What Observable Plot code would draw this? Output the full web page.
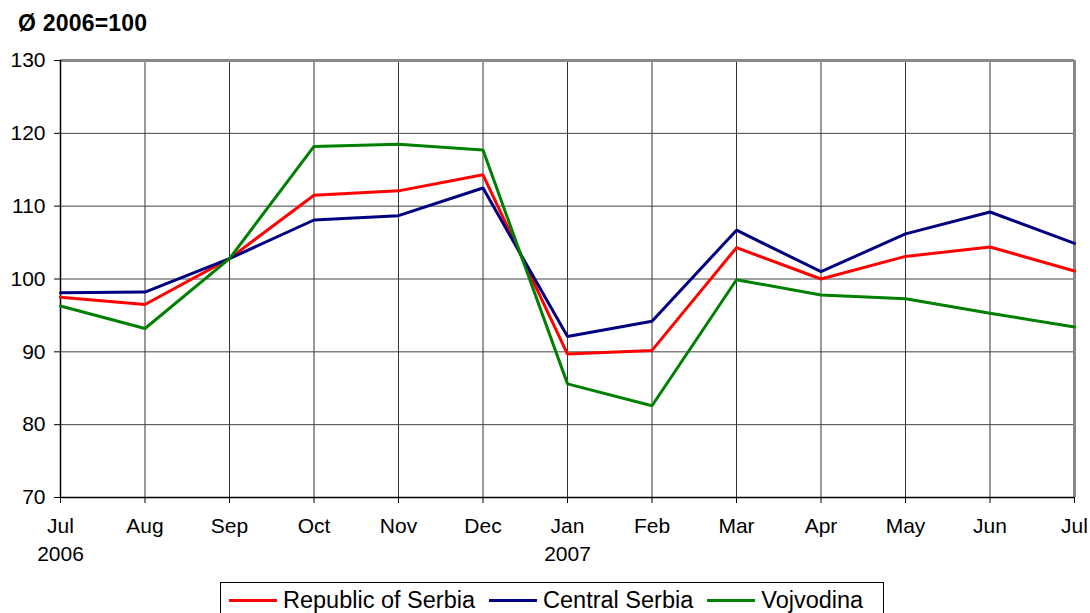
<!DOCTYPE html>
<html><head><meta charset="utf-8">
<script src="https://cdn.jsdelivr.net/npm/d3@7"></script>
<script src="https://cdn.jsdelivr.net/npm/@observablehq/plot@0.6"></script>
<style>
body{margin:0;background:#fff;font-family:"Liberation Sans",Arial,sans-serif;width:1090px;height:613px;overflow:hidden;position:relative}
#title{position:absolute;left:18px;top:10px;font-weight:bold;font-size:23px;letter-spacing:0.2px}
#chart{position:absolute;left:0;top:0}
#legend{position:absolute;left:220px;top:582px;width:664px;height:36px;border:1px solid #000;box-sizing:border-box;display:flex;flex-wrap:nowrap;align-items:center;padding-left:8px;font-size:23.5px;background:#fff;white-space:nowrap;overflow:hidden}
.item{display:flex;align-items:center;margin-right:14px;flex-shrink:0;white-space:nowrap}
.sw{width:48px;height:3px;display:inline-block;margin-right:6px;flex-shrink:0}
</style></head><body>
<div id="title">Ø 2006=100</div>
<div id="chart"></div>
<div id="legend"></div>
<script>
const months = ["Jul","Aug","Sep","Oct","Nov","Dec","Jan","Feb","Mar","Apr","May","Jun","Jul"];
const years  = ["2006","","","","","","2007","","","","","",""];
const seriesNames = ["Republic of Serbia","Central Serbia","Vojvodina"];
const seriesColors = ["#ff0000","#000080","#008000"];
const serbia   = [97.5, 96.5, 102.8, 111.5, 112.1, 114.3, 89.7, 90.2, 104.3, 100.0, 103.1, 104.4, 101.1];
const central  = [98.1, 98.2, 102.8, 108.1, 108.7, 112.5, 92.1, 94.2, 106.7, 101.0, 106.2, 109.2, 104.9];
const vojvodina= [96.3, 93.2, 102.8, 118.2, 118.5, 117.7, 85.6, 82.6, 99.9, 97.8, 97.3, 95.3, 93.4];
const yTicks = [70,80,90,100,110,120,130];

const allSeries = [serbia, central, vojvodina];
const data = [];
allSeries.forEach((vals, s) => vals.forEach((v, i) => data.push({i, v, s: seriesNames[s]})));
const idx = months.map((_, i) => i);

const chart = Plot.plot({
  width: 1090, height: 585,
  marginTop: 60, marginLeft: 60, marginRight: 16, marginBottom: 88,
  style: {fontFamily: '"Liberation Sans", Arial, sans-serif', fontSize: "21px", color: "#000", background: "transparent"},
  x: {type: "point", domain: idx, padding: 0, round: false},
  y: {domain: [70,130]},
  color: {domain: seriesNames, range: seriesColors},
  marks: [
    Plot.gridX(idx, {stroke: "#333", strokeOpacity: 1, strokeWidth: 1}),
    Plot.gridY(yTicks, {stroke: "#444", strokeOpacity: 1, strokeWidth: 1}),
    Plot.ruleY([130], {stroke: "#888", strokeWidth: 3}),
    Plot.ruleX([12], {stroke: "#888", strokeWidth: 3}),
    Plot.axisY(yTicks, {tickSize: 6, tickPadding: 9, label: null, fontSize: 21, stroke: "#000"}),
    Plot.axisX(idx, {tickSize: 6, tickPadding: 10, label: null, fontSize: 21, lineHeight: 1.33,
      tickFormat: i => months[i] + (years[i] ? "\n" + years[i] : "")}),
    Plot.ruleX([0], {stroke: "#000", strokeWidth: 1.5}),
    Plot.ruleY([70], {stroke: "#000", strokeWidth: 1.5}),
    Plot.line(data, {x: "i", y: "v", z: "s", stroke: "s", strokeWidth: 3, strokeLinejoin: "miter"})
  ]
});
document.getElementById("chart").appendChild(chart);

const lg = document.getElementById("legend");
seriesNames.forEach((n, k) => {
  const it = document.createElement("div"); it.className = "item";
  const sw = document.createElement("span"); sw.className = "sw"; sw.style.background = seriesColors[k];
  const t = document.createElement("span"); t.textContent = n;
  it.appendChild(sw); it.appendChild(t); lg.appendChild(it);
});
</script>
</body></html>
